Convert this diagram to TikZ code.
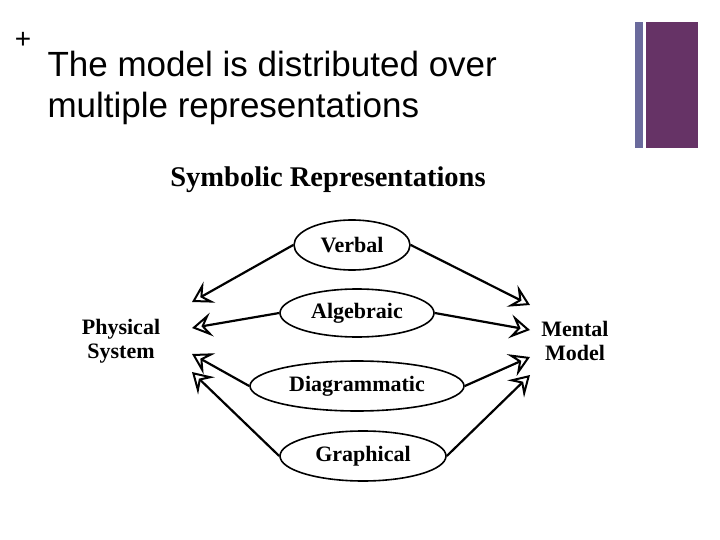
\documentclass[tikz,border=0pt]{standalone}
\usepackage{fontspec}
\setmainfont{Liberation Serif}
\newfontfamily\hsans{Liberation Sans}
\usetikzlibrary{shapes.geometric,arrows.meta}
\definecolor{barA}{HTML}{6A6A9C}
\definecolor{barB}{HTML}{663366}
\begin{document}
\begin{tikzpicture}[x=1pt,y=-1pt,
  ell/.style={ellipse,draw,line width=1.6pt,font=\bfseries\fontsize{22}{24}\selectfont,inner sep=0pt},
  lab/.style={align=center,font=\bfseries\fontsize{22}{24}\selectfont},
  arr/.style={line width=2.2pt,-{Stealth[open,length=20pt,width=24pt,inset=8pt,line width=2pt]}}]
\useasboundingbox (0,0) rectangle (720,540);
\fill[barA] (635,22) rectangle (643,148);
\fill[barB] (646,22) rectangle (698,148);
\node[font=\hsans\fontsize{28}{28}\selectfont] (plus) at (23,40) {+};
\node[font=\hsans\fontsize{35}{41}\selectfont,align=left,anchor=north west] (head) at (44,48) {The model is distributed over\\multiple representations};
\node[font=\bfseries\fontsize{28.5}{30}\selectfont] (title) at (328,180) {Symbolic Representations};
\node[ell,minimum width=116pt,minimum height=50pt] (v) at (352,245) {Verbal};
\node[ell,minimum width=154pt,minimum height=48pt] (a) at (357,313) {Algebraic};
\node[ell,minimum width=214pt,minimum height=50pt] (d) at (357,386) {Diagrammatic};
\node[ell,minimum width=166pt,minimum height=50pt] (g) at (363,456) {Graphical};
\node[lab] (ps) at (121,341) {Physical\\System};
\node[lab] (mm) at (575,341) {Mental\\Model};
\coordinate (l1) at (192,302); \coordinate (l2) at (192,328);
\coordinate (l3) at (192,354); \coordinate (l4) at (192,372);
\coordinate (r1) at (530,305); \coordinate (r2) at (530,330);
\coordinate (r3) at (530,357); \coordinate (r4) at (530,375);
\draw[arr] (v.west) -- (l1); \draw[arr] (v.east) -- (r1);
\draw[arr] (a.west) -- (l2); \draw[arr] (a.east) -- (r2);
\draw[arr] (d.west) -- (l3); \draw[arr] (d.east) -- (r3);
\draw[arr] (g.west) -- (l4); \draw[arr] (g.east) -- (r4);
\end{tikzpicture}
\end{document}
